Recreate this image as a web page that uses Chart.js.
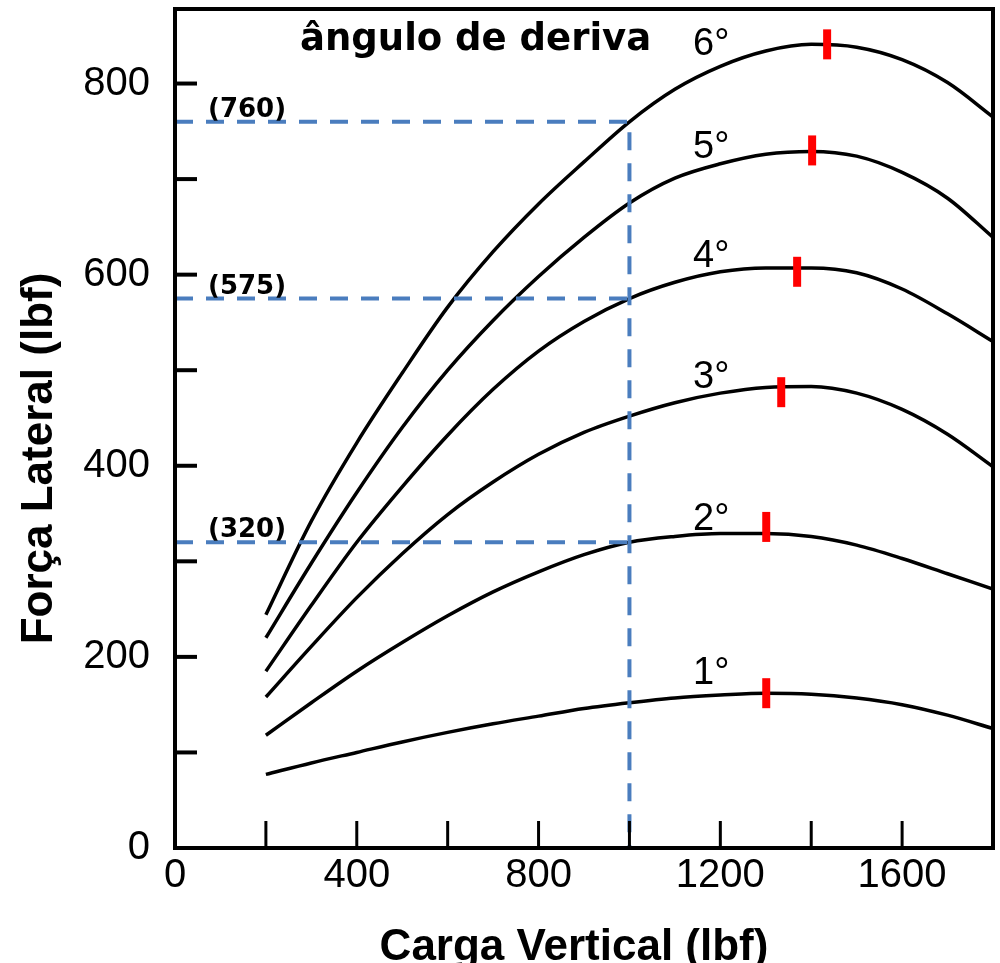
<!DOCTYPE html>
<html>
<head>
<meta charset="utf-8">
<script src="https://cdn.jsdelivr.net/npm/chart.js@4.4.1/dist/chart.umd.min.js"></script>
<style>
  html, body { margin: 0; padding: 0; background: #fff; }
  #wrap { width: 1000px; height: 963px; position: relative; }
</style>
</head>
<body>
<div id="wrap"><canvas id="myChart"></canvas></div>
<script>
// vertical load (lbf)
const loads = [200, 300, 400, 500, 600, 700, 800, 900, 1000, 1100, 1200, 1300, 1400, 1500, 1600, 1700, 1800];

// lateral force (lbf) for each slip angle
const slip6 = [244, 342, 424, 497, 566, 624, 674, 718, 760, 794, 818, 834, 841, 838, 825, 801, 765];
const slip5 = [220, 298, 372, 440, 500, 552, 598, 639, 675, 701, 716, 726, 729, 724, 707, 680, 639];
const slip4 = [185, 254, 320, 378, 432, 480, 520, 551, 575, 592, 603, 607, 607, 602, 585, 559, 530];
const slip3 = [158, 211, 262, 308, 349, 383, 412, 435, 452, 466, 476, 482, 483, 476, 459, 433, 399];
const slip2 = [118, 152, 185, 215, 243, 268, 289, 307, 320, 326, 329, 329, 326, 317, 303, 287, 271];
const slip1 = [77, 89, 100, 111, 121, 130, 138, 146, 152, 157, 160, 162, 161, 157, 150, 139, 125];
const angleNames = ['6°', '5°', '4°', '3°', '2°', '1°'];

// peak markers (red)
const peakLoad = [1435, 1402, 1369, 1334, 1301, 1301];
const peakForce = [841, 730, 603, 477, 336, 162];

// reading at 1000 lbf
const refLoad = 1000;
const refForces = [760, 575, 320];

// where the angle names sit (chart units)
const nameLoad = 1140;
const nameForce = [830, 722, 608, 481, 333, 172];

const xTickStep = 200;
const yTickStep = 100;

const BLUE = '#4a7dbe';

const curves = [slip6, slip5, slip4, slip3, slip2, slip1].map((vals, k) => ({
  label: angleNames[k],
  data: loads.map((x, i) => ({ x: x, y: vals[i] })),
  borderColor: '#000',
  borderWidth: 3.5,
  pointRadius: 0,
  cubicInterpolationMode: 'monotone',
  order: 2,
}));

const refLines = refForces.map((f, k) => {
  const pts = [{ x: 0, y: f }, { x: refLoad, y: f }];
  if (k === 0) pts.push({ x: refLoad, y: 0 });
  return {
    label: '(' + f + ')',
    data: pts,
    borderColor: BLUE,
    borderWidth: 4,
    borderDash: [18, 13],
    pointRadius: 0,
    tension: 0,
    order: 1,
  };
});

const peaks = {
  label: 'pico',
  data: peakLoad.map((x, i) => ({ x: x, y: peakForce[i] })),
  showLine: false,
  pointStyle: 'line',
  pointRotation: 90,
  pointRadius: 15,
  pointBorderWidth: 8,
  pointBorderColor: '#ff0000',
  pointBackgroundColor: '#ff0000',
  order: 0,
};

// frame, inward tick marks and text
const frameAndText = {
  id: 'frameAndText',
  afterDatasetsDraw(chart) {
    const { ctx, chartArea: a, scales: { x, y } } = chart;
    ctx.save();
    ctx.strokeStyle = '#000';
    ctx.lineCap = 'butt';

    ctx.lineWidth = 4;
    y.ticks.forEach(t => {
      if (t.value <= 0 || t.value % yTickStep) return;
      const py = y.getPixelForValue(t.value);
      ctx.beginPath();
      ctx.moveTo(a.left, py);
      ctx.lineTo(a.left + 22, py);
      ctx.stroke();
    });
    ctx.lineWidth = 3;
    x.ticks.forEach(t => {
      if (t.value <= 0 || t.value >= x.max) return;
      const px = x.getPixelForValue(t.value);
      ctx.beginPath();
      ctx.moveTo(px, a.bottom);
      ctx.lineTo(px, a.bottom - 27);
      ctx.stroke();
    });

    ctx.lineWidth = 4;
    ctx.strokeRect(a.left, a.top, a.right - a.left, a.bottom - a.top);

    ctx.fillStyle = '#000';
    ctx.textBaseline = 'alphabetic';

    // angle names
    ctx.textAlign = 'left';
    ctx.font = '38px "Liberation Sans"';
    angleNames.forEach((name, i) => {
      ctx.fillText(name, x.getPixelForValue(nameLoad), y.getPixelForValue(nameForce[i]));
    });

    ctx.font = 'bold 37px "DejaVu Sans"';
    ctx.fillText('ângulo de deriva', a.left + 125, a.top + 41);

    // values read on the dashed lines
    ctx.font = 'bold 26px "DejaVu Sans"';
    refForces.forEach(f => {
      ctx.fillText('(' + f + ')', x.getPixelForValue(0) + 33, y.getPixelForValue(f) - 5);
    });

    // axis titles
    ctx.font = 'bold 44px "Liberation Sans"';
    ctx.textAlign = 'center';
    ctx.fillText('Carga Vertical (lbf)', (a.left + a.right) / 2 - 10, a.bottom + 112);

    ctx.save();
    ctx.translate(a.left - 123, (a.top + a.bottom) / 2 + 30);
    ctx.rotate(-Math.PI / 2);
    ctx.fillText('Força Lateral (lbf)', 0, 0);
    ctx.restore();

    ctx.restore();
  },
};

Chart.defaults.font.family = '"Liberation Sans", Arial, sans-serif';
Chart.defaults.color = '#000';

const config = {
  type: 'line',
  data: { datasets: [peaks, ...refLines, ...curves] },
  options: {
    responsive: true,
    maintainAspectRatio: false,
    animation: false,
    layout: { autoPadding: false, padding: { top: 9, right: 7, left: 0, bottom: 0 } },
    plugins: {
      legend: { display: false },
      tooltip: { enabled: false },
    },
    scales: {
      x: {
        type: 'linear',
        min: 0,
        max: 1800,
        grid: { display: false },
        border: { display: false },
        ticks: {
          stepSize: xTickStep,
          autoSkip: false,
          maxRotation: 0,
          padding: 0,
          font: { size: 40, lineHeight: 1 },
          callback: v => (v % 400 === 0 ? String(v) : ''),
        },
        afterFit(scale) {
          scale.height = 115;
          scale.paddingLeft = 0;
          scale.paddingRight = 0;
        },
      },
      y: {
        type: 'linear',
        min: 0,
        max: 878,
        grid: { display: false },
        border: { display: false },
        ticks: {
          stepSize: yTickStep,
          autoSkip: false,
          padding: 17,
          font: { size: 40 },
          callback: v => (v % 200 === 0 ? String(v) : ''),
        },
        afterFit(scale) {
          scale.width = 175;
          scale.paddingTop = 0;
          scale.paddingBottom = 0;
        },
      },
    },
  },
  plugins: [frameAndText],
};

// render init block
const myChart = new Chart(document.getElementById('myChart'), config);
</script>
</body>
</html>
